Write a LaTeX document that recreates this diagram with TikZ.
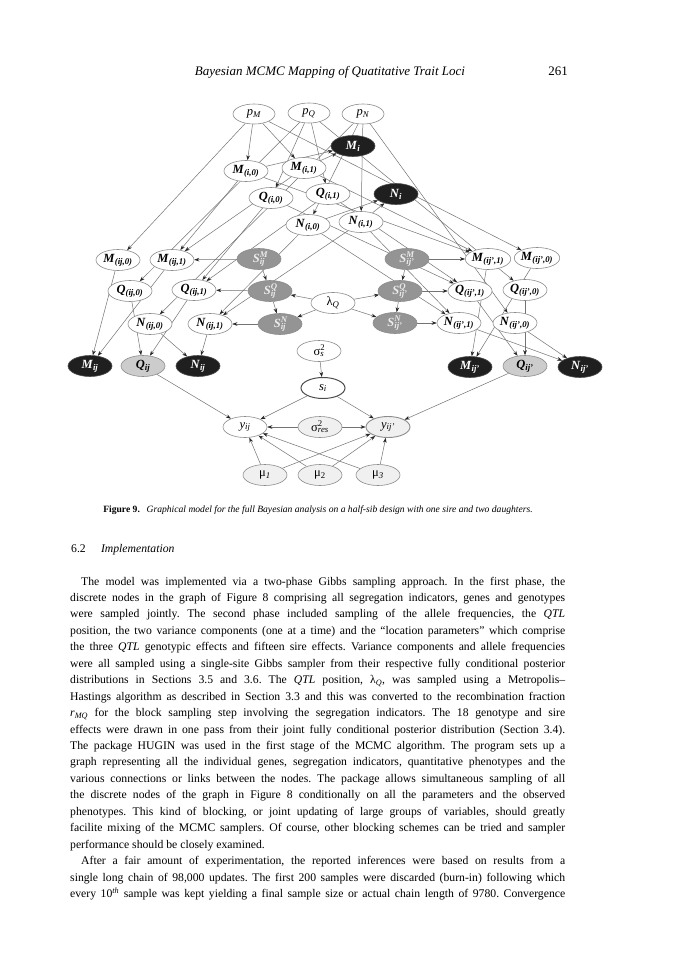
\documentclass[tikz,border=0pt]{standalone}
\usepackage{fontspec}
\setmainfont{Liberation Serif}
\usetikzlibrary{arrows.meta,shapes.geometric}
\pgfdeclarelayer{background}
\pgfdeclarelayer{paper}
\pgfsetlayers{paper,background,main}
\frenchspacing
\newcommand{\gb}[2]{\textbf{\textit{#1}}\textsubscript{\textbf{\textit{#2}}}}
\newcommand{\gs}[2]{\textbf{\textit{S}}\rlap{\textsuperscript{\textbf{\textit{#1}}}}\textsubscript{\textbf{\textit{#2}}}}
\newcommand{\gsig}[2]{σ\rlap{\textsuperscript{#2}}\textsubscript{\textit{#1}}}
\tikzset{
  gnode/.style={ellipse, draw=black!45, line width=0.6pt, minimum width=44pt,
    minimum height=21pt, inner sep=0pt, font=\fontsize{12.5}{12.5}\selectfont},
  wnode/.style={gnode, fill=white},
  bnode/.style={gnode, fill=black!88, text=white, draw=black!70},
  snode/.style={gnode, fill=black!42, text=black!8},
  qnode/.style={gnode, fill=black!20},
  lnode/.style={gnode, fill=black!6},
  edge/.style={draw=black!55, line width=0.5pt, -{Stealth[length=5pt,width=3.6pt,color=black!85]}},
  bodyline/.style={anchor=base west, inner sep=0pt, font=\fontsize{11.7}{14}\selectfont},
  plaintext/.style={inner sep=0pt}
}
\begin{document}
\begin{tikzpicture}[x=1pt,y=-1pt]
\begin{pgfonlayer}{paper}
\fill[white] (0,0) rectangle (672,960);
\end{pgfonlayer}
\useasboundingbox (0,0) rectangle (672,960);

% header
\node[plaintext, anchor=base] (head) at (330,76) {\fontsize{13}{15}\selectfont\textit{Bayesian MCMC Mapping of Quatitative Trait Loci}};
\node[plaintext, anchor=base east] (pagenum) at (568,76) {\fontsize{13}{15}\selectfont 261};

% graph nodes
\node[wnode, minimum width=42pt, minimum height=20pt] (pM) at (254,114) {\textit{p}\textsubscript{\textit{M}}};
\node[wnode, minimum width=42pt, minimum height=20pt] (pQ) at (309,113) {\textit{p}\textsubscript{\textit{Q}}};
\node[wnode, minimum width=42pt, minimum height=20pt] (pN) at (363,114) {\textit{p}\textsubscript{\textit{N}}};
\node[bnode] (Mi) at (353,146) {\gb{M}{i}};
\node[wnode] (Mi0) at (246,171) {\gb{M}{(i,0)}};
\node[wnode] (Mi1) at (304,168) {\gb{M}{(i,1)}};
\node[wnode] (Qi0) at (271,198) {\gb{Q}{(i,0)}};
\node[wnode] (Qi1) at (328,194) {\gb{Q}{(i,1)}};
\node[bnode] (Ni) at (396,194) {\gb{N}{i}};
\node[wnode] (Ni0) at (308,225) {\gb{N}{(i,0)}};
\node[wnode] (Ni1) at (361,222) {\gb{N}{(i,1)}};

\node[wnode] (Mj0) at (118,260) {\gb{M}{(ij,0)}};
\node[wnode] (Mj1) at (172,260) {\gb{M}{(ij,1)}};
\node[snode] (SjM) at (259,259) {\gs{M}{ij}};
\node[snode] (SkM) at (407,259) {\gs{M}{ij'}};
\node[wnode] (Mk1) at (488,259) {\gb{M}{(ij',1)}};
\node[wnode] (Mk0) at (537,258) {\gb{M}{(ij',0)}};

\node[wnode] (Qj0) at (130,291) {\gb{Q}{(ij,0)}};
\node[wnode] (Qj1) at (194,290) {\gb{Q}{(ij,1)}};
\node[snode] (SjQ) at (270,291) {\gs{Q}{ij}};
\node[wnode] (lam) at (333,303) {λ\textsubscript{\textit{Q}}};
\node[snode] (SkQ) at (400,291) {\gs{Q}{ij'}};
\node[wnode] (Qk1) at (470,291) {\gb{Q}{(ij',1)}};
\node[wnode] (Qk0) at (525,290) {\gb{Q}{(ij',0)}};

\node[wnode] (Nj0) at (150,324) {\gb{N}{(ij,0)}};
\node[wnode] (Nj1) at (210,324) {\gb{N}{(ij,1)}};
\node[snode] (SjN) at (280,324) {\gs{N}{ij}};
\node[snode] (SkN) at (395,323) {\gs{N}{ij'}};
\node[wnode] (Nk1) at (459,323) {\gb{N}{(ij',1)}};
\node[wnode] (Nk0) at (515,323) {\gb{N}{(ij',0)}};

\node[bnode] (Mj) at (90,366) {\gb{M}{ij}};
\node[qnode] (Qj) at (143,366) {\gb{Q}{ij}};
\node[bnode] (Nj) at (198,366) {\gb{N}{ij}};
\node[bnode] (Mk) at (470,367) {\gb{M}{ij'}};
\node[qnode] (Qk) at (525,366) {\gb{Q}{ij'}};
\node[bnode] (Nk) at (580,367) {\gb{N}{ij'}};

\node[wnode] (sigs) at (319,351) {\gsig{s}{2}};
\node[wnode, line width=1pt, draw=black!70] (si) at (323,388) {\textit{s}\textsubscript{\textit{i}}};
\node[wnode] (yj) at (245,427) {\textit{y}\textsubscript{\textit{ij}}};
\node[lnode] (sigres) at (320,427) {\gsig{res}{2}};
\node[lnode, line width=0.9pt] (yk) at (388,427) {\textit{y}\textsubscript{\textit{ij'}}};
\node[lnode] (mu1) at (265,475) {μ\textsubscript{\textit{1}}};
\node[lnode] (mu2) at (320,475) {μ\textsubscript{2}};
\node[lnode] (mu3) at (378,475) {μ\textsubscript{\textit{3}}};

\begin{pgfonlayer}{background}
\foreach \a/\b in {pM/Mi0, pM/Mi1, pM/Mj0, pM/Mk0,
  pQ/Qi0, pQ/Qi1, pQ/Qj0, pQ/Qk0,
  pN/Ni0, pN/Ni1, pN/Nj0, pN/Nk0,
  Mi0/Mi, Mi1/Mi, Ni0/Ni, Ni1/Ni,
  Mi0/Mj1, Mi1/Mj1, Mi0/Mk1, Mi1/Mk1,
  Qi0/Qj1, Qi1/Qj1, Qi0/Qk1, Qi1/Qk1,
  Ni0/Nj1, Ni1/Nj1, Ni0/Nk1, Ni1/Nk1,
  SjM/Mj1, SjM/SjQ, SjQ/Qj1, SjQ/SjN, SjN/Nj1,
  SkM/Mk1, SkM/SkQ, SkQ/Qk1, SkQ/SkN, SkN/Nk1,
  lam/SjQ, lam/SjN, lam/SkQ, lam/SkN,
  Mj0/Mj, Mj1/Mj, Qj0/Qj, Qj1/Qj, Nj0/Nj, Nj1/Nj,
  Mk0/Mk, Mk1/Mk, Qk0/Qk, Qk1/Qk, Nk0/Nk, Nk1/Nk,
  Qj/yj, Qk/yk, sigs/si, si/yj, si/yk, sigres/yj, sigres/yk,
  mu1/yj, mu2/yj, mu3/yj, mu1/yk, mu2/yk, mu3/yk}
  \draw[edge] (\a) -- (\b);
\end{pgfonlayer}

% caption
\node[plaintext, anchor=base] (cap) at (318,512) {\fontsize{9.6}{11}\selectfont\textbf{Figure 9.}\hspace{0.7em}\textit{Graphical model for the full Bayesian analysis on a half-sib design with one sire and two daughters.}};

% section heading
\node[bodyline] (sec) at (71,552) {6.2\hspace{1.3em}\textit{Implementation}};

% body text
\node[bodyline] (l1) at (70,585) {\makebox[495pt][s]{\hspace{11pt}The model was implemented via a two-phase Gibbs sampling approach. In the first phase, the}};
\node[bodyline] (l2) at (70,601.45) {\makebox[495pt][s]{discrete nodes in the graph of Figure 8 comprising all segregation indicators, genes and genotypes}};
\node[bodyline] (l3) at (70,617.9) {\makebox[495pt][s]{were sampled jointly. The second phase included sampling of the allele frequencies, the \textit{QTL}}};
\node[bodyline] (l4) at (70,634.35) {\makebox[495pt][s]{position, the two variance components (one at a time) and the ``location parameters'' which comprise}};
\node[bodyline] (l5) at (70,650.8) {\makebox[495pt][s]{the three \textit{QTL} genotypic effects and fifteen sire effects. Variance components and allele frequencies}};
\node[bodyline] (l6) at (70,667.25) {\makebox[495pt][s]{were all sampled using a single-site Gibbs sampler from their respective fully conditional posterior}};
\node[bodyline] (l7) at (70,683.7) {\makebox[495pt][s]{distributions in Sections 3.5 and 3.6. The \textit{QTL} position, λ\textsubscript{\textit{Q}}, was sampled using a Metropolis--}};
\node[bodyline] (l8) at (70,700.15) {\makebox[495pt][s]{Hastings algorithm as described in Section 3.3 and this was converted to the recombination fraction}};
\node[bodyline] (l9) at (70,716.6) {\makebox[495pt][s]{\textit{r}\textsubscript{\textit{MQ}} for the block sampling step involving the segregation indicators. The 18 genotype and sire}};
\node[bodyline] (l10) at (70,733.05) {\makebox[495pt][s]{effects were drawn in one pass from their joint fully conditional posterior distribution (Section 3.4).}};
\node[bodyline] (l11) at (70,749.5) {\makebox[495pt][s]{The package HUGIN was used in the first stage of the MCMC algorithm. The program sets up a}};
\node[bodyline] (l12) at (70,765.95) {\makebox[495pt][s]{graph representing all the individual genes, segregation indicators, quantitative phenotypes and the}};
\node[bodyline] (l13) at (70,782.4) {\makebox[495pt][s]{various connections or links between the nodes. The package allows simultaneous sampling of all}};
\node[bodyline] (l14) at (70,798.85) {\makebox[495pt][s]{the discrete nodes of the graph in Figure 8 conditionally on all the parameters and the observed}};
\node[bodyline] (l15) at (70,815.3) {\makebox[495pt][s]{phenotypes. This kind of blocking, or joint updating of large groups of variables, should greatly}};
\node[bodyline] (l16) at (70,831.75) {\makebox[495pt][s]{facilite mixing of the MCMC samplers. Of course, other blocking schemes can be tried and sampler}};
\node[bodyline] (l17) at (70,848.2) {performance should be closely examined.};
\node[bodyline] (l18) at (70,864.65) {\makebox[495pt][s]{\hspace{11pt}After a fair amount of experimentation, the reported inferences were based on results from a}};
\node[bodyline] (l19) at (70,881.1) {\makebox[495pt][s]{single long chain of 98,000 updates. The first 200 samples were discarded (burn-in) following which}};
\node[bodyline] (l20) at (70,897.55) {\makebox[495pt][s]{every 10\textsuperscript{\textit{th}} sample was kept yielding a final sample size or actual chain length of 9780. Convergence}};
\end{tikzpicture}
\end{document}
